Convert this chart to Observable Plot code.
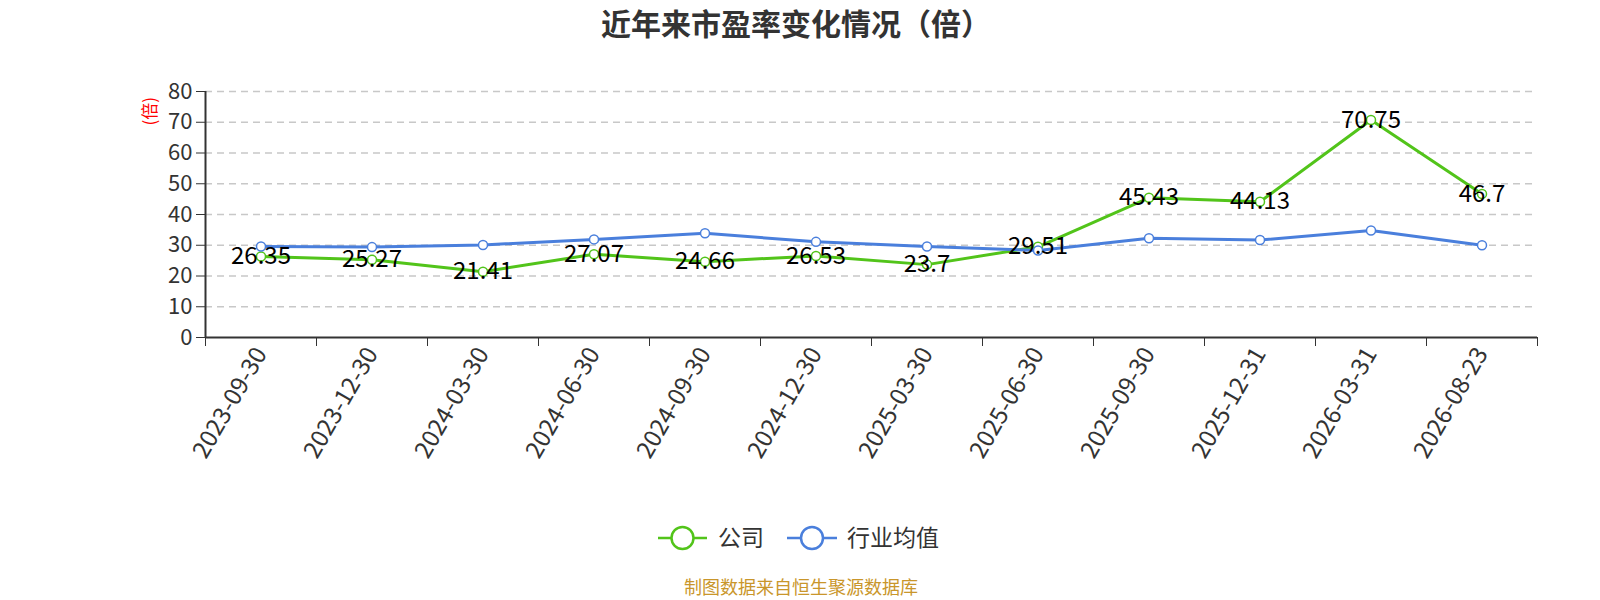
<!DOCTYPE html>
<html><head><meta charset="utf-8">
<script src="https://cdn.jsdelivr.net/npm/d3@7"></script>
<script src="https://cdn.jsdelivr.net/npm/@observablehq/plot@0.6"></script>
<style>
body{margin:0;background:#fff;font-family:"Noto Sans CJK SC","Noto Sans",sans-serif;}
#wrap{position:relative;width:1600px;height:600px;overflow:hidden;}
#title{position:absolute;top:1px;left:0;width:1592px;text-align:center;font-size:30px;font-weight:bold;color:#333;line-height:42px;}
#chart{position:absolute;top:0;left:0;}
#legend{position:absolute;top:520px;left:0;}
#caption{position:absolute;top:576px;left:0;width:1602px;text-align:center;font-size:18px;color:#c9962b;line-height:20px;}
</style></head>
<body><div id="wrap">
<div id="chart"></div>
<div id="title">近年来市盈率变化情况（倍）</div>
<div id="legend"></div>
<div id="caption">制图数据来自恒生聚源数据库</div>
</div>
<script>
const dates = ["2023-09-30","2023-12-30","2024-03-30","2024-06-30","2024-09-30","2024-12-30","2025-03-30","2025-06-30","2025-09-30","2025-12-31","2026-03-31","2026-08-23"];
const company = [26.35,25.27,21.41,27.07,24.66,26.53,23.7,29.51,45.43,44.13,70.75,46.7];
const industry = [29.6,29.4,30.1,31.9,33.9,31.1,29.6,28.3,32.3,31.7,34.8,30.0];
const yTicks = [0,10,20,30,40,50,60,70,80];
const seriesNames = ["公司","行业均值"];
const colors = ["#52c41a","#4a7fdc"];

const idx = dates.map((d,i)=>i);
const bounds = d3.range(-0.5, dates.length, 1);
const compRows = company.map((v,i)=>({i, v}));
const indRows = industry.map((v,i)=>({i, v}));

const chart = Plot.plot({
  width: 1600, height: 480,
  marginLeft: 205, marginRight: 63, marginTop: 91, marginBottom: 143,
  style: {fontFamily: '"Noto Sans CJK SC","Noto Sans",sans-serif', color: "#333", background: "transparent"},
  x: {type: "linear", domain: [-0.5, dates.length - 0.5]},
  y: {domain: [0, 80]},
  marks: [
    Plot.gridY(yTicks.filter(t=>t>0), {stroke:"#c8c8c8", strokeOpacity:1, strokeWidth:1.5, strokeDasharray:"7,5"}),
    Plot.axisY({ticks: yTicks, tickSize: 9, tickPadding: 4, fontSize: 22, label: null, tickFormat: d=>String(d)}),
    Plot.axisX({ticks: bounds, tickSize: 9, tickFormat: ()=>"", label: null}),
    Plot.axisX({ticks: idx, tickSize: 0, tickPadding: 12, tickRotate: -60, fontSize: 24, label: null, tickFormat: i=>dates[i]}),
    Plot.ruleY([0], {stroke:"#333", strokeWidth:2}),
    Plot.ruleX([-0.5], {y1:0, y2:80, stroke:"#333", strokeWidth:2}),
    Plot.text(["(倍)"], {frameAnchor:"top-left", dx:-62, dy:34, rotate:-90, fill:"red", fontSize:17}),
    Plot.line(compRows, {x:"i", y:"v", stroke:colors[0], strokeWidth:3}),
    Plot.dot(compRows, {x:"i", y:"v", r:4.5, fill:"white", stroke:colors[0], strokeWidth:1.5}),
    Plot.line(indRows, {x:"i", y:"v", stroke:colors[1], strokeWidth:3}),
    Plot.dot(indRows, {x:"i", y:"v", r:4.5, fill:"white", stroke:colors[1], strokeWidth:1.5}),
    Plot.text(compRows, {x:"i", y:"v", text: d=>String(d.v), fontSize:24, fill:"#000"})
  ]
});
document.getElementById("chart").appendChild(chart);

// legend
const lg = d3.select("#legend").append("svg").attr("width", 1000).attr("height", 40);
const items = [{x:658, w:49, tx:718}, {x:787, w:50, tx:847}];
items.forEach((it, k) => {
  lg.append("line").attr("x1", it.x).attr("x2", it.x+it.w).attr("y1", 18).attr("y2", 18).attr("stroke", colors[k]).attr("stroke-width", 2.5);
  lg.append("circle").attr("cx", it.x+it.w/2).attr("cy", 18).attr("r", 11).attr("fill", "white").attr("stroke", colors[k]).attr("stroke-width", 2.5);
  lg.append("text").attr("x", it.tx).attr("y", 18).attr("dy", "0.35em").attr("font-size", 23).attr("fill", "#333")
    .attr("font-family", '"Noto Sans CJK SC",sans-serif').text(seriesNames[k]);
});
</script>
</body></html>
